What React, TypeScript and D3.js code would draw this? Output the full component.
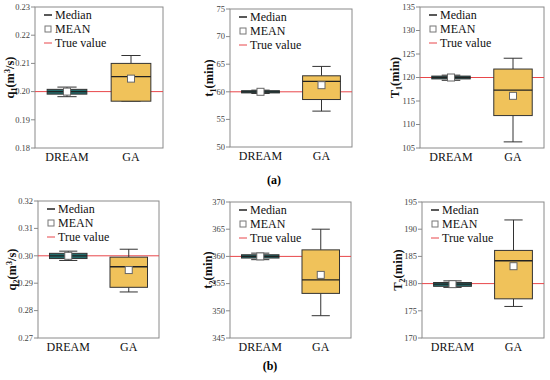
import * as d3 from "d3";
import React from "react";

// categories and panels
const methods = ["DREAM", "GA"];
const varNames = ["q", "t", "T", "q", "t", "T"];
const varSubs = ["1", "1", "1", "2", "2", "2"];
const varUnits = ["m3/s", "min", "min", "m3/s", "min", "min"];
const trueValues = [0.2, 60, 120, 0.3, 360, 180];
const yDomains = [
  [0.18, 0.23],
  [50, 75],
  [105, 135],
  [0.27, 0.32],
  [345, 370],
  [170, 195],
];
const tickFormats = [".2f", "d", "d", ".2f", "d", "d"];

// [whisker low, Q1, median, Q3, whisker high, mean]
const dreamStats = [
  [0.1982, 0.1991, 0.2, 0.2008, 0.2016, 0.2],
  [59.7, 59.8, 60.0, 60.2, 60.3, 60.0],
  [119.4, 119.7, 120.0, 120.3, 120.5, 120.0],
  [0.2983, 0.299, 0.3, 0.3009, 0.3017, 0.3],
  [359.4, 359.7, 360.0, 360.3, 360.6, 360.0],
  [179.3, 179.5, 179.9, 180.2, 180.5, 179.9],
];
const gaStats = [
  [0.1966, 0.1966, 0.2053, 0.21, 0.2128, 0.2046],
  [56.5, 58.6, 61.9, 62.9, 64.6, 61.2],
  [106.3, 111.9, 117.3, 121.8, 124.1, 116.1],
  [0.2868, 0.2885, 0.296, 0.2995, 0.3024, 0.2948],
  [349.1, 353.2, 355.7, 361.2, 365.0, 356.6],
  [175.8, 177.2, 184.2, 186.1, 191.7, 183.2],
];
const panelLabels = ["(a)", "(b)"];

// layout
const frames = [
  [35, 163, 7, 148],
  [230, 352, 9, 147],
  [420, 544, 7, 148],
  [38, 159, 201, 338],
  [230, 351, 202, 338],
  [422, 544, 202, 338],
];
const titleX = [10, 209, 395, 12, 208, 398];
const labelPos = [
  [274, 184],
  [270, 370],
];

const FONT = "Liberation Serif";
const FILLS = ["#236c6c", "#f0c25a"];
const BOX_W = 0.62;
const CAP_W = 0.3;

const Panel: React.FC<{ i: number }> = ({ i }) => {
  const [x0, x1, y0, y1] = frames[i];
  const x = d3.scaleLinear().domain([0.5, 2.5]).range([x0, x1]);
  const y = d3.scaleLinear().domain(yDomains[i]).range([y1, y0]);
  const ticks = y.ticks(6);
  const fmt = d3.format(tickFormats[i]);
  const stats = [dreamStats[i], gaStats[i]];
  const cy = (y0 + y1) / 2;
  const unit = varUnits[i];

  return (
    <g>
      <rect x={x0} y={y0} width={x1 - x0} height={y1 - y0} fill="none" stroke="#8a8a8a" strokeWidth={1} />
      {ticks.map((t) => (
        <g key={t}>
          <line x1={x0 - 4} x2={x0} y1={y(t)} y2={y(t)} stroke="#8a8a8a" />
          <text x={x0 - 5} y={y(t)} dy="0.33em" textAnchor="end" fontSize={8.5} fill="#444">
            {fmt(t)}
          </text>
        </g>
      ))}
      <line x1={x0} x2={x1} y1={y(trueValues[i])} y2={y(trueValues[i])} stroke="#e8474a" strokeWidth={1} />
      {stats.map((s, k) => {
        const cx = x(k + 1);
        const bw = x(1 + BOX_W / 2) - x(1 - BOX_W / 2);
        const cw = x(1 + CAP_W / 2) - x(1 - CAP_W / 2);
        const [wl, q1, med, q3, wh, mean] = s;
        return (
          <g key={k}>
            <line x1={cx} x2={cx} y1={y(wh)} y2={y(q3)} stroke="#333" />
            <line x1={cx} x2={cx} y1={y(q1)} y2={y(wl)} stroke="#333" />
            <line x1={cx - cw / 2} x2={cx + cw / 2} y1={y(wh)} y2={y(wh)} stroke="#333" />
            <line x1={cx - cw / 2} x2={cx + cw / 2} y1={y(wl)} y2={y(wl)} stroke="#333" />
            <rect
              x={cx - bw / 2}
              y={y(q3)}
              width={bw}
              height={Math.max(y(q1) - y(q3), 1)}
              fill={FILLS[k]}
              stroke="#333"
              strokeWidth={1}
            />
            <line x1={cx - bw / 2} x2={cx + bw / 2} y1={y(med)} y2={y(med)} stroke="#222" strokeWidth={1.3} />
            <rect x={cx - 3.5} y={y(mean) - 3.5} width={7} height={7} fill="#fff" stroke="#666" strokeWidth={1} />
          </g>
        );
      })}
      {methods.map((m, k) => (
        <text key={m} x={x(k + 1)} y={y1 + 13} textAnchor="middle" fontSize={12} fill="#111">
          {m}
        </text>
      ))}
      {/* legend */}
      <g fontSize={12} fill="#111">
        <line x1={x0 + 9} x2={x0 + 17} y1={y0 + 8} y2={y0 + 8} stroke="#222" strokeWidth={1.5} />
        <text x={x0 + 20} y={y0 + 8} dy="0.35em">Median</text>
        <rect x={x0 + 10} y={y0 + 19} width={6} height={6} fill="#fff" stroke="#777" />
        <text x={x0 + 20} y={y0 + 22} dy="0.35em">MEAN</text>
        <line x1={x0 + 9} x2={x0 + 17} y1={y0 + 36} y2={y0 + 36} stroke="#e8474a" strokeWidth={1} />
        <text x={x0 + 20} y={y0 + 36} dy="0.35em">True value</text>
      </g>
      <text
        transform={`translate(${titleX[i]},${cy}) rotate(-90)`}
        textAnchor="middle"
        dy="0.35em"
        fontWeight="bold"
        fontSize={12.5}
        fill="#111"
      >
        {varNames[i]}
        <tspan fontSize={8} dy="3">{varSubs[i]}</tspan>
        {unit === "m3/s" ? (
          <>
            <tspan dy="-3">(m</tspan>
            <tspan fontSize={8} dy="-4">3</tspan>
            <tspan dy="4">/s)</tspan>
          </>
        ) : (
          <tspan dy="-3">(min)</tspan>
        )}
      </text>
    </g>
  );
};

const App: React.FC = () => (
  <svg
    width={550}
    height={380}
    style={{ position: "absolute", left: 0, top: 0, background: "#fff", fontFamily: FONT }}
  >
    <rect width={550} height={380} fill="#fff" />
    {frames.map((_, i) => (
      <Panel key={i} i={i} />
    ))}
    {panelLabels.map((l, k) => (
      <text key={l} x={labelPos[k][0]} y={labelPos[k][1]} textAnchor="middle" fontWeight="bold" fontSize={12}>
        {l}
      </text>
    ))}
  </svg>
);

export default App;
